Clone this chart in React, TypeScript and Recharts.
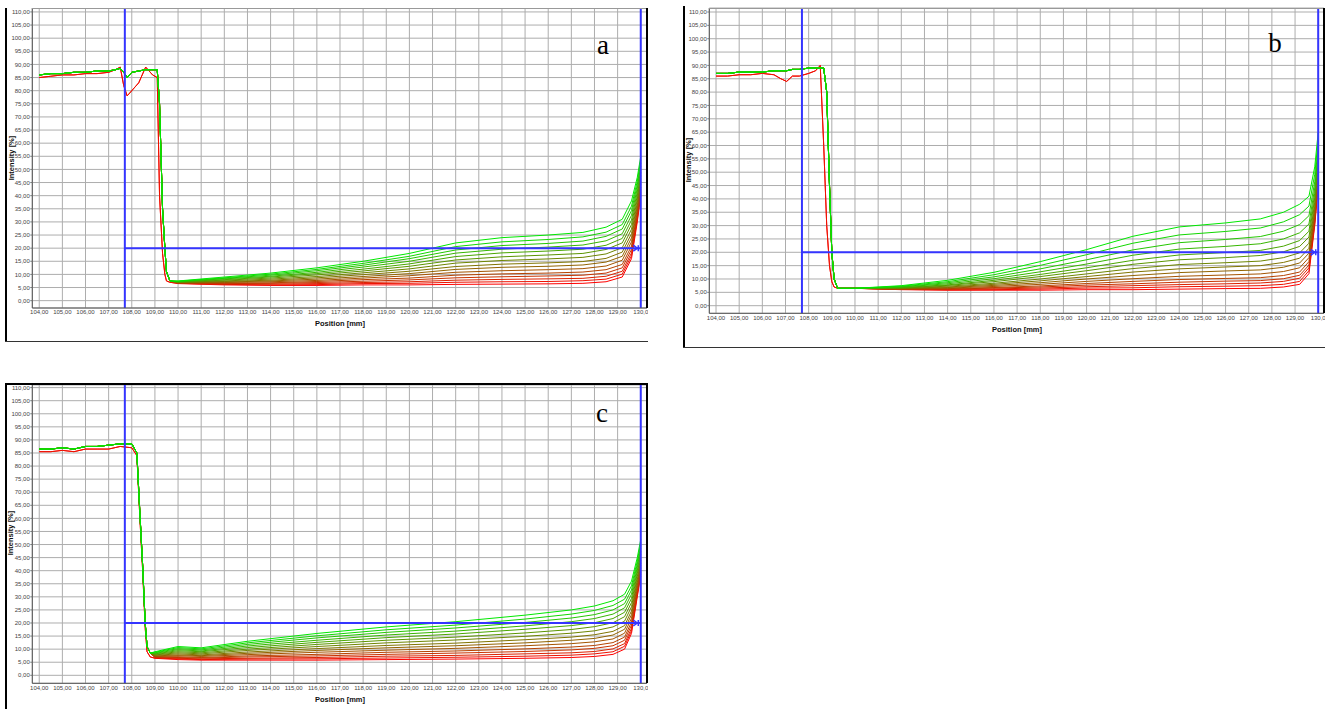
import React from "react";
import { CartesianGrid, Line, LineChart, ReferenceDot, ReferenceLine, XAxis, YAxis } from "recharts";

// tick labels shared by the three profile plots
const xTicks = [104, 105, 106, 107, 108, 109, 110, 111, 112, 113, 114, 115, 116, 117, 118, 119, 120, 121, 122, 123, 124, 125, 126, 127, 128, 129, 130];
const yTicks = [0, 5, 10, 15, 20, 25, 30, 35, 40, 45, 50, 55, 60, 65, 70, 75, 80, 85, 90, 95, 100, 105, 110];

// ---- panel a ----
const headXA = [104, 104.5, 105, 105.5, 106, 106.5, 107, 107.3, 107.5, 107.65, 107.8, 108, 108.3, 108.6, 108.9, 109.1, 109.2, 109.33, 109.43, 109.5, 109.65];
const headGreenA = [86, 86.5, 86.5, 87, 87, 87.5, 87.5, 88, 88.5, 87, 85, 87, 87.5, 88, 88, 88, 75, 35, 20, 11, 7.5];
const headRedA = [85, 85.5, 86, 86, 86.5, 86.5, 87, 88, 89, 82, 78, 80, 83, 89, 86, 85, 40, 18, 10, 7.5, 7];
const bulkXA = [110, 112, 114, 116, 118, 120, 122, 124, 126, 127.5, 128.5, 129.2, 129.6, 129.85, 130];
const curvesA = [
  [6.5, 6, 5.8, 5.8, 6, 6, 6.2, 6.3, 6.4, 6.6, 7.2, 9, 16, 30, 40],
  [6.6, 6.2, 6.0, 6.1, 6.5, 6.6, 7.0, 7.2, 7.3, 7.6, 8.2, 10.1, 17.1, 30.9, 40.8],
  [6.6, 6.3, 6.3, 6.5, 6.9, 7.2, 7.8, 8.1, 8.3, 8.5, 9.3, 11.2, 18.2, 31.7, 41.5],
  [6.7, 6.5, 6.6, 6.9, 7.4, 7.9, 8.7, 9.1, 9.4, 9.7, 10.5, 12.5, 19.5, 32.7, 42.4],
  [6.7, 6.7, 6.8, 7.3, 8.0, 8.6, 9.7, 10.2, 10.5, 10.9, 11.8, 13.8, 20.8, 33.7, 43.3],
  [6.8, 6.9, 7.2, 7.7, 8.6, 9.5, 10.8, 11.4, 11.8, 12.2, 13.2, 15.4, 22.4, 34.9, 44.4],
  [6.9, 7.1, 7.5, 8.2, 9.2, 10.3, 11.9, 12.7, 13.1, 13.6, 14.7, 16.9, 23.9, 36.1, 45.4],
  [6.9, 7.3, 7.8, 8.7, 9.9, 11.2, 13.0, 13.9, 14.4, 14.9, 16.1, 18.5, 25.5, 37.3, 46.5],
  [7.0, 7.5, 8.2, 9.2, 10.6, 12.1, 14.3, 15.3, 15.9, 16.5, 17.8, 20.2, 27.2, 38.7, 47.7],
  [7.1, 7.8, 8.6, 9.8, 11.3, 13.1, 15.5, 16.7, 17.4, 18.0, 19.5, 22.0, 29.0, 40.0, 48.9],
  [7.2, 8.0, 9.0, 10.3, 12.0, 14.0, 16.8, 18.2, 18.9, 19.6, 21.1, 23.7, 30.7, 41.4, 50.1],
  [7.3, 8.3, 9.3, 10.8, 12.8, 15.0, 18.1, 19.6, 20.4, 21.2, 22.8, 25.5, 32.5, 42.8, 51.3],
  [7.3, 8.5, 9.7, 11.4, 13.5, 16.0, 19.3, 21.0, 21.8, 22.7, 24.5, 27.3, 34.3, 44.1, 52.5],
  [7.4, 8.7, 10.1, 11.9, 14.2, 16.9, 20.6, 22.4, 23.3, 24.3, 26.1, 29.0, 36.0, 45.5, 53.7],
  [7.5, 9, 10.5, 12.5, 15, 18, 22, 24, 25, 26, 28, 31, 38, 47, 55],
];

// ---- panel b ----
const headXB = [104, 104.5, 105, 105.5, 106, 106.5, 106.8, 107.05, 107.3, 107.6, 108, 108.3, 108.5, 108.65, 108.78, 108.9, 109.0, 109.1, 109.25];
const headGreenB = [87, 87, 87.5, 87.5, 87.5, 88, 88, 88, 88.5, 88.5, 89, 89, 89, 89, 80, 45, 20, 10, 6.5];
const headRedB = [86, 86, 86.5, 86.5, 87, 86.5, 85, 84, 86, 86, 87, 88, 90, 60, 30, 15, 9, 7, 6.5];
const bulkXB = [110, 112, 114, 116, 118, 120, 122, 124, 126, 127.5, 128.5, 129.2, 129.6, 129.85, 130];
const curvesB = [
  [6.5, 6, 5.8, 5.8, 5.8, 6, 6, 6.2, 6.4, 6.5, 7, 8, 12, 30, 45],
  [6.5, 6.1, 5.9, 6.0, 6.2, 6.6, 6.7, 7.1, 7.3, 7.5, 8.0, 9.1, 13.1, 30.8, 45.7],
  [6.5, 6.1, 6.1, 6.3, 6.6, 7.1, 7.5, 7.9, 8.2, 8.5, 9.1, 10.3, 14.2, 31.7, 46.5],
  [6.5, 6.2, 6.2, 6.6, 7.0, 7.7, 8.2, 8.8, 9.2, 9.4, 10.1, 11.4, 15.2, 32.5, 47.2],
  [6.5, 6.2, 6.4, 6.8, 7.4, 8.3, 9.1, 9.8, 10.2, 10.5, 11.3, 12.6, 16.5, 33.4, 48.1],
  [6.5, 6.3, 6.6, 7.2, 8.0, 9.1, 10.1, 11.0, 11.5, 11.9, 12.8, 14.2, 18.0, 34.6, 49.1],
  [6.5, 6.4, 6.8, 7.6, 8.6, 10.0, 11.3, 12.4, 13.0, 13.4, 14.4, 16.0, 19.7, 35.9, 50.3],
  [6.5, 6.5, 7.0, 8.0, 9.3, 10.9, 12.6, 13.8, 14.5, 15.0, 16.2, 17.8, 21.5, 37.2, 51.6],
  [6.5, 6.6, 7.3, 8.4, 10.0, 11.9, 13.9, 15.4, 16.1, 16.7, 18.0, 19.8, 23.4, 38.7, 52.9],
  [6.5, 6.7, 7.6, 9.0, 10.9, 13.1, 15.5, 17.2, 18.0, 18.8, 20.2, 22.2, 25.7, 40.4, 54.5],
  [6.5, 6.8, 7.8, 9.5, 11.7, 14.2, 17.0, 19.0, 19.9, 20.7, 22.3, 24.4, 27.9, 42.1, 56.0],
  [6.5, 7.0, 8.2, 10.1, 12.7, 15.6, 18.9, 21.2, 22.2, 23.2, 25.0, 27.3, 30.6, 44.1, 57.9],
  [6.5, 7.1, 8.6, 10.8, 13.8, 17.2, 20.9, 23.6, 24.8, 25.9, 27.9, 30.4, 33.7, 46.4, 59.9],
  [6.5, 7.3, 9.0, 11.6, 15.1, 19.1, 23.4, 26.5, 27.8, 29.1, 31.4, 34.1, 37.3, 49.2, 62.4],
  [6.5, 7.5, 9.5, 12.5, 16.5, 21, 26, 29.5, 31, 32.5, 35, 38, 41, 52, 65],
];

// ---- panel c ----
const headXC = [104, 104.5, 105, 105.5, 106, 106.5, 107, 107.5, 108, 108.22, 108.35, 108.47, 108.58, 108.66, 108.8];
const headGreenC = [86.5, 86.5, 87, 86.5, 87.5, 87.5, 88, 88.5, 88.5, 85, 62, 42, 20, 11, 8.5];
const headRedC = [85.5, 85.5, 86, 85.5, 86.5, 86.5, 86.5, 87.5, 87, 84, 60, 40, 18, 9, 7];
const bulkXC = [109, 110, 111, 113, 116, 119, 122, 125, 127, 128, 128.8, 129.3, 129.6, 129.85, 130];
const curvesC = [
  [6.5, 6, 5.8, 5.8, 5.8, 6, 6.2, 6.5, 6.8, 7.2, 8, 10, 16, 30, 38],
  [6.6, 6.3, 6.0, 6.2, 6.3, 6.6, 6.9, 7.3, 7.7, 8.2, 9.0, 11.1, 17.0, 30.8, 38.7],
  [6.8, 6.5, 6.3, 6.5, 6.8, 7.3, 7.6, 8.2, 8.6, 9.1, 10.1, 12.1, 18.0, 31.5, 39.4],
  [6.9, 6.8, 6.6, 7.0, 7.4, 8.0, 8.5, 9.1, 9.7, 10.3, 11.3, 13.4, 19.2, 32.4, 40.2],
  [7.1, 7.1, 6.8, 7.4, 8.0, 8.8, 9.3, 10.1, 10.8, 11.4, 12.5, 14.6, 20.4, 33.3, 41.1],
  [7.2, 7.5, 7.2, 7.9, 8.8, 9.6, 10.3, 11.3, 12.1, 12.8, 13.9, 16.1, 21.8, 34.4, 42.1],
  [7.4, 7.8, 7.5, 8.4, 9.5, 10.5, 11.3, 12.4, 13.4, 14.1, 15.4, 17.6, 23.2, 35.4, 43.0],
  [7.6, 8.2, 7.8, 8.9, 10.2, 11.4, 12.3, 13.6, 14.6, 15.5, 16.8, 19.0, 24.6, 36.5, 44.0],
  [7.8, 8.6, 8.2, 9.5, 11.0, 12.4, 13.5, 14.9, 16.1, 17.0, 18.5, 20.7, 26.2, 37.7, 45.1],
  [8.0, 9.0, 8.6, 10.0, 11.8, 13.4, 14.6, 16.2, 17.5, 18.6, 20.1, 22.4, 27.8, 38.9, 46.3],
  [8.2, 9.4, 9.0, 10.6, 12.6, 14.4, 15.8, 17.6, 19.0, 20.1, 21.7, 24.1, 29.4, 40.1, 47.4],
  [8.4, 9.8, 9.3, 11.2, 13.4, 15.4, 16.9, 18.9, 20.5, 21.7, 23.4, 25.8, 31.0, 41.3, 48.5],
  [8.6, 10.2, 9.7, 11.8, 14.3, 16.4, 18.1, 20.2, 21.9, 23.2, 25.0, 27.4, 32.6, 42.5, 49.6],
  [8.8, 10.6, 10.1, 12.4, 15.1, 17.4, 19.2, 21.5, 23.4, 24.8, 26.7, 29.1, 34.2, 43.7, 50.7],
  [9, 11, 10.5, 13, 16, 18.5, 20.5, 23, 25, 26.5, 28.5, 31, 36, 45, 52],
];

const BLUE = "#3535ff";
const tickFont = "'Liberation Sans Narrow', 'Arial Narrow', 'Liberation Sans', Arial, sans-serif";
const labelFont = "'Liberation Sans', Arial, sans-serif";
const fmt = (v: number) => v.toFixed(2).replace(".", ",");
// the last x label is cut by the plot frame in the original
const fmtX = (v: number) => (v === 130 ? "130,0" : fmt(v));

const curveColor = (k: number, n: number) => {
  const t = k / (n - 1);
  return `rgb(${Math.round(255 * (1 - t))},${Math.round(232 * t)},0)`;
};

function buildCurve(headX: number[], head: number[], bulkX: number[], values: number[]) {
  return [
    ...headX.map((x, i) => ({ x, y: head[i] })),
    ...bulkX.map((x, i) => ({ x, y: values[i] })),
  ];
}

type PanelProps = {
  left: number;
  top: number;
  width: number;
  height: number;
  marginTop: number;
  xAxisHeight: number;
  xDomain: [number, number];
  yDomain: [number, number];
  cursorX: number;
  headX: number[];
  headRed: number[];
  headGreen: number[];
  bulkX: number[];
  curves: number[][];
};

function ProfilePanel(p: PanelProps) {
  const n = p.curves.length;
  return (
    <div style={{ position: "absolute", left: p.left, top: p.top }}>
      <LineChart width={p.width} height={p.height} margin={{ top: p.marginTop, right: 1, bottom: 0, left: 0 }}>
        <CartesianGrid stroke="#adadad" />
        <XAxis
          type="number"
          dataKey="x"
          domain={p.xDomain}
          ticks={xTicks}
          interval={0}
          allowDataOverflow
          tickFormatter={fmtX}
          height={p.xAxisHeight}
          tickLine={false}
          tickSize={1}
          tickMargin={1}
          axisLine={{ stroke: "#555" }}
          tick={{ fontSize: 6, fill: "#444", fontFamily: tickFont }}
        />
        <YAxis
          type="number"
          domain={p.yDomain}
          ticks={yTicks}
          interval={0}
          allowDataOverflow
          tickFormatter={fmt}
          width={26.3}
          tickSize={2}
          tickMargin={0.5}
          axisLine={{ stroke: "#555" }}
          tickLine={{ stroke: "#777" }}
          tick={{ fontSize: 6, fill: "#444", fontFamily: tickFont }}
        />
        {p.curves.map((c, k) => (
          <Line
            key={k}
            data={buildCurve(p.headX, k < 2 ? p.headRed : p.headGreen, p.bulkX, c)}
            dataKey="y"
            type="linear"
            stroke={curveColor(k, n)}
            strokeWidth={1}
            dot={false}
            isAnimationActive={false}
          />
        ))}
        <ReferenceLine x={p.cursorX} stroke={BLUE} strokeWidth={2} />
        <ReferenceLine x={130} stroke={BLUE} strokeWidth={2} />
        <ReferenceLine segment={[{ x: p.cursorX, y: 20 }, { x: 130, y: 20 }]} stroke={BLUE} strokeWidth={2} />
        <ReferenceDot
          x={129.85}
          y={20}
          shape={(s: any) => (
            <path
              d={`M${s.cx - 4},${s.cy - 3} L${s.cx},${s.cy} L${s.cx - 4},${s.cy + 3} M${s.cx + 1},${s.cy - 3} L${s.cx + 1},${s.cy + 3}`}
              stroke={BLUE}
              strokeWidth={1.5}
              fill="none"
            />
          )}
        />
      </LineChart>
    </div>
  );
}

const abs = (left: number, top: number, width: number, height: number, background: string): React.CSSProperties => ({
  position: "absolute",
  left,
  top,
  width,
  height,
  background,
});

function AxisTitles({ yx, yy, xx, xy }: { yx: number; yy: number; xx: number; xy: number }) {
  const base: React.CSSProperties = {
    position: "absolute",
    fontFamily: labelFont,
    fontWeight: "bold",
    fontSize: 7.5,
    whiteSpace: "nowrap",
    color: "#111",
    lineHeight: "8px",
  };
  return (
    <>
      <div style={{ ...base, left: yx, top: yy, transform: "translate(-50%, -50%) rotate(-90deg)" }}>Intensity [%]</div>
      <div style={{ ...base, left: xx, top: xy, transform: "translate(-50%, -50%)" }}>Position [mm]</div>
    </>
  );
}

function Letter({ x, y, text }: { x: number; y: number; text: string }) {
  return (
    <div
      style={{
        position: "absolute",
        left: x,
        top: y,
        transform: "translate(-50%, -50%)",
        fontFamily: "'Liberation Serif', 'Times New Roman', serif",
        fontSize: 27,
        lineHeight: "28px",
        color: "#000",
      }}
    >
      {text}
    </div>
  );
}

export default function App() {
  return (
    <div style={{ position: "absolute", left: 0, top: 0, width: 1332, height: 709, background: "#fff", overflow: "hidden" }}>
      {/* panel a */}
      <ProfilePanel
        left={6}
        top={8}
        width={642}
        height={333}
        marginTop={0}
        xAxisHeight={33}
        xDomain={[103.7, 130.27]}
        yDomain={[-2.8, 111.5]}
        cursorX={107.7}
        headX={headXA}
        headRed={headRedA}
        headGreen={headGreenA}
        bulkX={bulkXA}
        curves={curvesA}
      />
      <div style={abs(32, 8, 615, 1, "#999")} />
      <div style={abs(646, 8, 1.5, 300, "#000")} />
      <div style={abs(5, 8, 2, 333, "#000")} />
      <div style={abs(5, 340.5, 643, 1, "#333")} />
      <AxisTitles yx={12} yy={158} xx={340} xy={324} />
      <Letter x={603} y={45} text="a" />

      {/* panel b */}
      <ProfilePanel
        left={683}
        top={7}
        width={642}
        height={340}
        marginTop={1}
        xAxisHeight={33.7}
        xDomain={[103.71, 130.25]}
        yDomain={[-2.85, 111.5]}
        cursorX={107.71}
        headX={headXB}
        headRed={headRedB}
        headGreen={headGreenB}
        bulkX={bulkXB}
        curves={curvesB}
      />
      <div style={abs(709, 8, 615, 1, "#999")} />
      <div style={abs(1323, 8, 1.5, 305, "#000")} />
      <div style={abs(682.5, 6, 2, 341, "#000")} />
      <div style={abs(683, 346.5, 642, 1, "#333")} />
      <AxisTitles yx={689} yy={160} xx={1017} xy={330} />
      <Letter x={1275} y={43} text="b" />

      {/* panel c */}
      <ProfilePanel
        left={6}
        top={385}
        width={642}
        height={324}
        marginTop={0}
        xAxisHeight={25.7}
        xDomain={[103.7, 130.27]}
        yDomain={[-3.06, 111]}
        cursorX={107.7}
        headX={headXC}
        headRed={headRedC}
        headGreen={headGreenC}
        bulkX={bulkXC}
        curves={curvesC}
      />
      <div style={abs(646, 384, 1.5, 299, "#000")} />
      <div style={abs(5, 383, 643, 2, "#000")} />
      <div style={abs(5, 383, 2, 326, "#000")} />
      <AxisTitles yx={11} yy={533} xx={340} xy={700} />
      <Letter x={602} y={413} text="c" />
    </div>
  );
}
